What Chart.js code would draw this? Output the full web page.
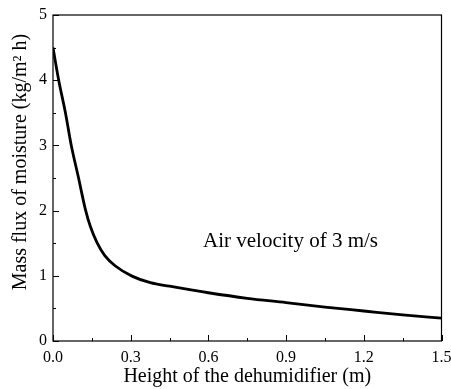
<!DOCTYPE html>
<html>
<head>
<meta charset="utf-8">
<script src="https://cdn.jsdelivr.net/npm/chart.js@4.4.0/dist/chart.umd.min.js"></script>
<style>
  html, body { margin: 0; padding: 0; background: #fff; }
  #wrap { width: 451px; height: 389px; }
</style>
</head>
<body>
<div id="wrap"><canvas id="fluxChart"></canvas></div>
<script>
// values
const heights = [0, 0.022, 0.048, 0.07, 0.097, 0.125, 0.144, 0.170, 0.200, 0.241, 0.305, 0.376, 0.45, 0.6, 0.75, 0.9, 1.05, 1.2, 1.35, 1.5];
const massFlux = [4.5, 4.0, 3.5, 3.01, 2.53, 2.02, 1.76, 1.51, 1.31, 1.15, 0.995, 0.894, 0.84, 0.74, 0.655, 0.59, 0.52, 0.46, 0.40, 0.35];
const xTicks = [0, 0.3, 0.6, 0.9, 1.2, 1.5];
const yTicks = [0, 1, 2, 3, 4, 5];
const yTitle = 'Mass flux of moisture (kg/m² h)';
const noteText = 'Air velocity of 3 m/s';
const notePos = { x: 0.917, y: 1.53 };

const serif = '"Liberation Serif", "Times New Roman", serif';

// frame + inward ticks + annotation + y title
const framePlugin = {
    id: 'frame',
    afterDraw(chart) {
        const ctx = chart.ctx;
        const a = chart.chartArea;
        const xs = chart.scales.x;
        const ys = chart.scales.y;
        ctx.save();
        ctx.strokeStyle = '#000';
        ctx.lineWidth = 1.2;
        ctx.strokeRect(a.left, a.top, a.right - a.left, a.bottom - a.top);

        ctx.lineWidth = 1;
        ctx.beginPath();
        for (let i = 0; i < xTicks.length; i++) {
            const px = Math.round(xs.getPixelForValue(xTicks[i])) + 0.5;
            ctx.moveTo(px, a.bottom); ctx.lineTo(px, a.bottom - 6);
            if (i < xTicks.length - 1) {
                const mx = Math.round(xs.getPixelForValue((xTicks[i] + xTicks[i + 1]) / 2)) + 0.5;
                ctx.moveTo(mx, a.bottom); ctx.lineTo(mx, a.bottom - 3);
            }
        }
        for (let i = 0; i < yTicks.length; i++) {
            const py = Math.round(ys.getPixelForValue(yTicks[i])) + 0.5;
            ctx.moveTo(a.left, py); ctx.lineTo(a.left + 6, py);
            if (i < yTicks.length - 1) {
                const my = Math.round(ys.getPixelForValue((yTicks[i] + yTicks[i + 1]) / 2)) + 0.5;
                ctx.moveTo(a.left, my); ctx.lineTo(a.left + 3, my);
            }
        }
        ctx.stroke();

        ctx.fillStyle = '#000';
        ctx.font = '21px ' + serif;
        ctx.textAlign = 'center';
        ctx.textBaseline = 'middle';
        ctx.fillText(noteText, xs.getPixelForValue(notePos.x), ys.getPixelForValue(notePos.y));

        // y axis title, sits a bit above the middle as in the original
        ctx.font = '20px ' + serif;
        ctx.translate(21, (a.top + a.bottom) / 2 - 16);
        ctx.rotate(-Math.PI / 2);
        ctx.fillText(yTitle, 0, 0);
        ctx.restore();
    }
};

const ctx = document.getElementById('fluxChart').getContext('2d');
const fluxChart = new Chart(ctx, {
    type: 'line',
    data: {
        datasets: [{
            data: heights.map((h, i) => ({ x: h, y: massFlux[i] })),
            borderColor: '#000',
            borderWidth: 2.8,
            pointRadius: 0,
            cubicInterpolationMode: 'monotone',
            fill: false
        }]
    },
    options: {
        responsive: true,
        maintainAspectRatio: false,
        animation: false,
        layout: { padding: { top: 15, right: 9.5, left: 2, bottom: 0 } },
        plugins: { legend: { display: false }, tooltip: { enabled: false } },
        scales: {
            x: {
                type: 'linear',
                min: 0,
                max: 1.5,
                afterBuildTicks(scale) { scale.ticks = xTicks.map(v => ({ value: v })); },
                afterFit(scale) {
                    scale.height = 48;
                    scale.paddingLeft = 0;
                    scale.paddingRight = 0;
                },
                grid: { display: false, drawTicks: false },
                border: { display: false },
                ticks: {
                    color: '#000',
                    font: { family: serif, size: 16 },
                    padding: 7,
                    maxRotation: 0,
                    callback: v => v.toFixed(1)
                },
                title: {
                    display: true,
                    text: 'Height of the dehumidifier (m)',
                    color: '#000',
                    font: { family: serif, size: 20 },
                    padding: { top: 0, bottom: 0 }
                }
            },
            y: {
                min: 0,
                max: 5,
                afterBuildTicks(scale) { scale.ticks = yTicks.map(v => ({ value: v })); },
                afterFit(scale) {
                    scale.width = 51;
                    scale.paddingTop = 0;
                    scale.paddingBottom = 0;
                },
                grid: { display: false, drawTicks: false },
                border: { display: false },
                ticks: {
                    color: '#000',
                    font: { family: serif, size: 16 },
                    padding: 6
                }
            }
        }
    },
    plugins: [framePlugin]
});
</script>
</body>
</html>
